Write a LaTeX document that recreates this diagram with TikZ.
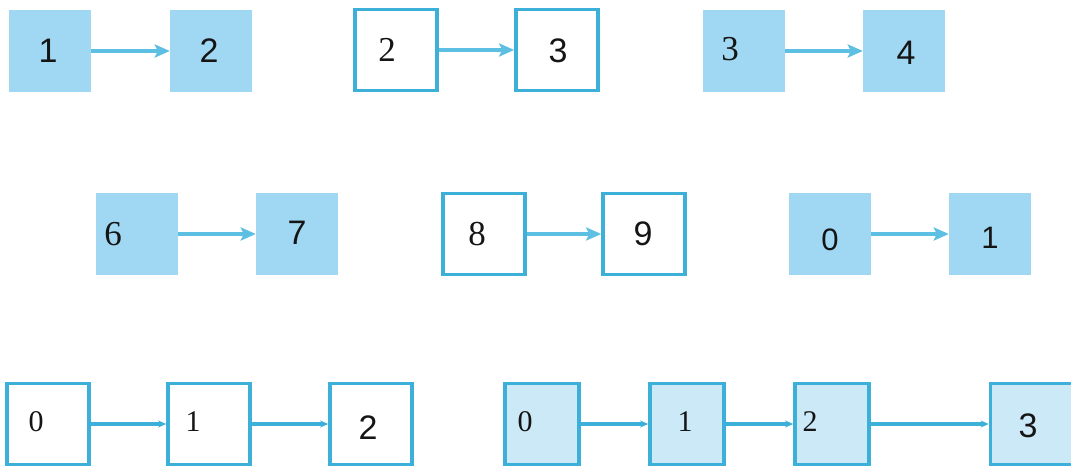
\documentclass[tikz,border=0pt]{standalone}
\usepackage{fontspec}
\setmainfont{Liberation Serif}
\setsansfont{Liberation Sans}
\usetikzlibrary{arrows.meta}
\definecolor{fillblue}{HTML}{A0D8F4}
\definecolor{lightblue}{HTML}{CCE9F8}
\definecolor{edgeblue}{HTML}{3DB0DA}
\definecolor{arrowblue}{HTML}{5DC0E2}
\definecolor{digit}{HTML}{151515}
\tikzset{
  x=1pt, y=-1pt,
  solidbox/.style={rectangle, draw=none, fill=fillblue, minimum width=82pt, minimum height=82pt, inner sep=0pt},
  openbox/.style={rectangle, draw=edgeblue, line width=3.6pt, fill=white, minimum width=82pt, minimum height=81pt, inner sep=0pt},
  paleopen/.style={rectangle, draw=edgeblue, line width=3.6pt, fill=lightblue, minimum width=74pt, minimum height=81pt, inner sep=0pt},
  sansdigit/.style={font=\fontsize{34}{34}\sffamily, text=digit, inner sep=0pt},
  serifdigit/.style={font=\fontsize{35}{35}\rmfamily, text=digit, inner sep=0pt},
  smallserif/.style={font=\fontsize{30}{30}\rmfamily, text=digit, inner sep=0pt},
  bigarrow/.style={draw=arrowblue, line width=3.8pt, -{Stealth[length=15pt, width=13pt, inset=3pt]}},
  thinarrow/.style={draw=edgeblue, line width=3.2pt, -{Stealth[length=8pt, width=7pt]}}
}
\begin{document}
\begin{tikzpicture}
\useasboundingbox (0,0) rectangle (1071,468);
\fill[white] (0,0) rectangle (1071,468);
% Row 1
\node[solidbox] (a1) at (50,51) {};
\node[solidbox] (a2) at (211,51) {};
\node[sansdigit] (ta1) at (48,51) {1};
\node[sansdigit] (ta2) at (209,51) {2};
\draw[bigarrow] (a1.east) -- (a2.west);

\node[openbox] (b1) at (396,50) {};
\node[openbox] (b2) at (557,50) {};
\node[serifdigit] (tb1) at (387,50) {2};
\node[sansdigit] (tb2) at (558,51) {3};
\draw[bigarrow] (b1.east) -- (b2.west);

\node[solidbox] (c1) at (744,51) {};
\node[solidbox] (c2) at (904,51) {};
\node[serifdigit] (tc1) at (730,49) {3};
\node[sansdigit] (tc2) at (906,53) {4};
\draw[bigarrow] (c1.east) -- (c2.west);

% Row 2
\node[solidbox] (d1) at (137,234) {};
\node[solidbox] (d2) at (297,234) {};
\node[serifdigit] (td1) at (113,234) {6};
\node[sansdigit] (td2) at (297,233) {7};
\draw[bigarrow] (d1.east) -- (d2.west);

\node[openbox] (e1) at (484,234) {};
\node[openbox] (e2) at (644,234) {};
\node[serifdigit] (te1) at (477,234) {8};
\node[sansdigit] (te2) at (643,234) {9};
\draw[bigarrow] (e1.east) -- (e2.west);

\node[solidbox] (f1) at (830,234) {};
\node[solidbox] (f2) at (990,234) {};
\node[sansdigit, font=\fontsize{31}{31}\sffamily] (tf1) at (830,240) {0};
\node[sansdigit, font=\fontsize{31}{31}\sffamily] (tf2) at (990,238) {1};
\draw[bigarrow] (f1.east) -- (f2.west);

% Row 3
\node[openbox] (g1) at (48,424) {};
\node[openbox] (g2) at (209,424) {};
\node[openbox] (g3) at (371,424) {};
\node[smallserif] (tg1) at (36,422) {0};
\node[smallserif] (tg2) at (193,422) {1};
\node[sansdigit] (tg3) at (368,428) {2};
\draw[thinarrow] (g1.east) -- (g2.west);
\draw[thinarrow] (g2.east) -- (g3.west);

\node[paleopen] (h1) at (542,424) {};
\node[paleopen] (h2) at (687,424) {};
\node[paleopen] (h3) at (832,424) {};
\node[paleopen, minimum width=85pt] (h4) at (1033,424) {};
\node[smallserif] (th1) at (525,422) {0};
\node[smallserif] (th2) at (685,422) {1};
\node[smallserif] (th3) at (810,422) {2};
\node[sansdigit] (th4) at (1028,426) {3};
\draw[thinarrow] (h1.east) -- (h2.west);
\draw[thinarrow] (h2.east) -- (h3.west);
\draw[thinarrow] (h3.east) -- (h4.west);
\end{tikzpicture}
\end{document}
